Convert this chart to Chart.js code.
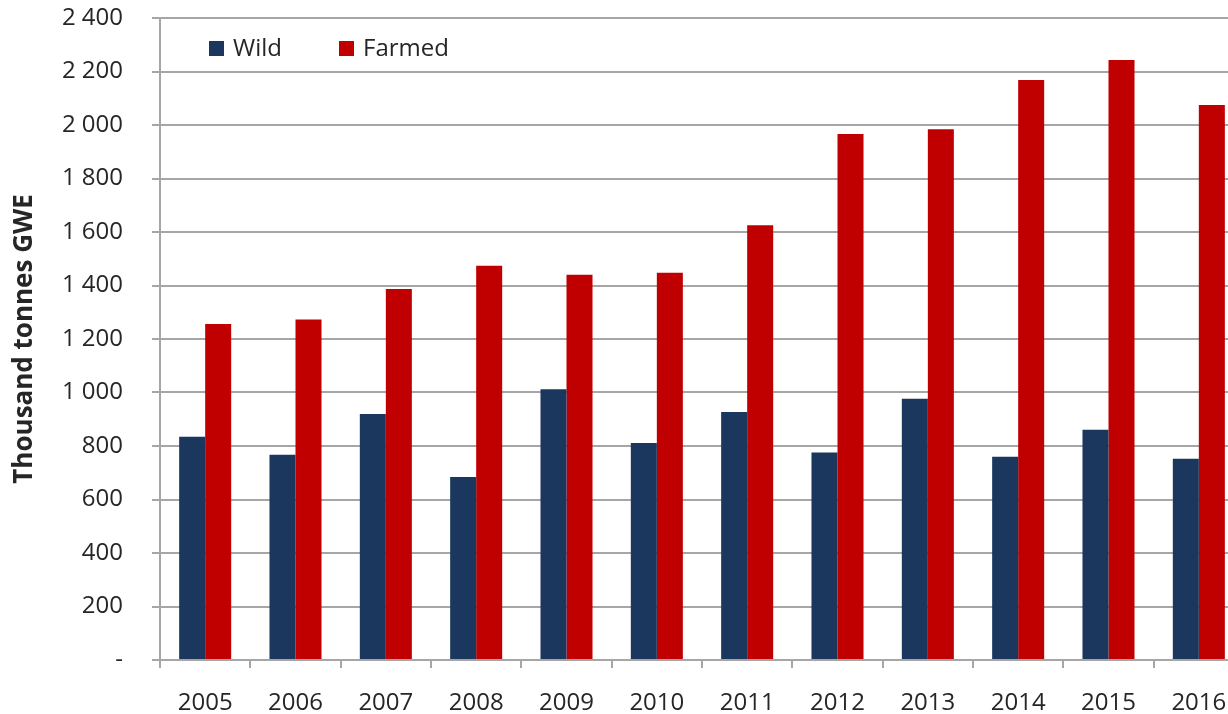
<!DOCTYPE html>
<html>
<head>
<meta charset="utf-8">
<script src="https://cdn.jsdelivr.net/npm/chart.js@4/dist/chart.umd.min.js"></script>
<style>
  html, body { margin: 0; padding: 0; background: #fff; overflow: hidden; width: 1228px; height: 714px; }
  #wrap { width: 1260px; height: 714px; }
</style>
</head>
<body>
<div id="wrap"><canvas id="c" width="1260" height="714"></canvas></div>
<script>
const categories = ['2005','2006','2007','2008','2009','2010','2011','2012','2013','2014','2015','2016'];
const wildValues = [835, 767, 920, 684, 1012, 811, 927, 776, 977, 760, 861, 752];
const farmedValues = [1256, 1273, 1387, 1474, 1440, 1448, 1625, 1966, 1984, 2168, 2243, 2075];
const seriesNames = ['Wild', 'Farmed'];
const yTickLabels = ['-', '200', '400', '600', '800', '1 000', '1 200', '1 400', '1 600', '1 800', '2 000', '2 200', '2 400'];
const yAxisTitle = 'Thousand tonnes GWE';

const FONT = "'Open Sans', 'Liberation Sans', sans-serif";
const GRID = '#a6a6a6';
const TEXT = '#262626';

const innerLegend = {
  id: 'innerLegend',
  afterDraw(chart) {
    const ctx = chart.ctx;
    ctx.save();
    ctx.font = '24px ' + FONT;
    ctx.textBaseline = 'middle';
    ctx.textAlign = 'left';
    const xs = [209, 339];
    chart.data.datasets.forEach((ds, i) => {
      const x = xs[i];
      ctx.fillStyle = ds.backgroundColor;
      ctx.fillRect(x, 41, 15, 15);
      ctx.fillStyle = TEXT;
      ctx.fillText(ds.label, x + 24, 49);
    });
    ctx.restore();
  }
};

new Chart(document.getElementById('c'), {
  type: 'bar',
  data: {
    labels: categories,
    datasets: [
      { label: seriesNames[0], data: wildValues, backgroundColor: '#1b375d' },
      { label: seriesNames[1], data: farmedValues, backgroundColor: '#c00000' }
    ]
  },
  options: {
    responsive: false,
    devicePixelRatio: 1,
    animation: false,
    categoryPercentage: 0.576,
    barPercentage: 1.0,
    layout: { padding: { left: 0, right: 16, top: 18, bottom: 0 } },
    plugins: {
      legend: { display: false },
      tooltip: { enabled: false }
    },
    scales: {
      x: {
        offset: true,
        grid: { display: true, drawOnChartArea: false, drawTicks: true, tickLength: 8, color: GRID, lineWidth: 2 },
        border: { display: true, color: GRID, width: 2 },
        ticks: { color: TEXT, font: { family: FONT, size: 24 }, padding: 21, maxRotation: 0, autoSkip: false },
        afterFit(scale) { scale.height = 54; scale.paddingLeft = 0; scale.paddingRight = 0; }
      },
      y: {
        min: 0,
        max: 2400,
        ticks: {
          stepSize: 200,
          color: TEXT,
          font: { family: FONT, size: 24 },
          padding: 29,
          callback: (v) => yTickLabels[Math.round(v / 200)]
        },
        grid: { color: GRID, lineWidth: 2, tickLength: 8, drawTicks: true },
        border: { display: true, color: GRID, width: 2 },
        title: {
          display: true,
          text: yAxisTitle,
          color: TEXT,
          font: { family: FONT, size: 26, weight: 'bold' },
          padding: { top: 9, bottom: 0 }
        },
        afterFit(scale) { scale.width = 160; scale.paddingTop = 0; scale.paddingBottom = 0; }
      }
    }
  },
  plugins: [innerLegend]
});
</script>
</body>
</html>
